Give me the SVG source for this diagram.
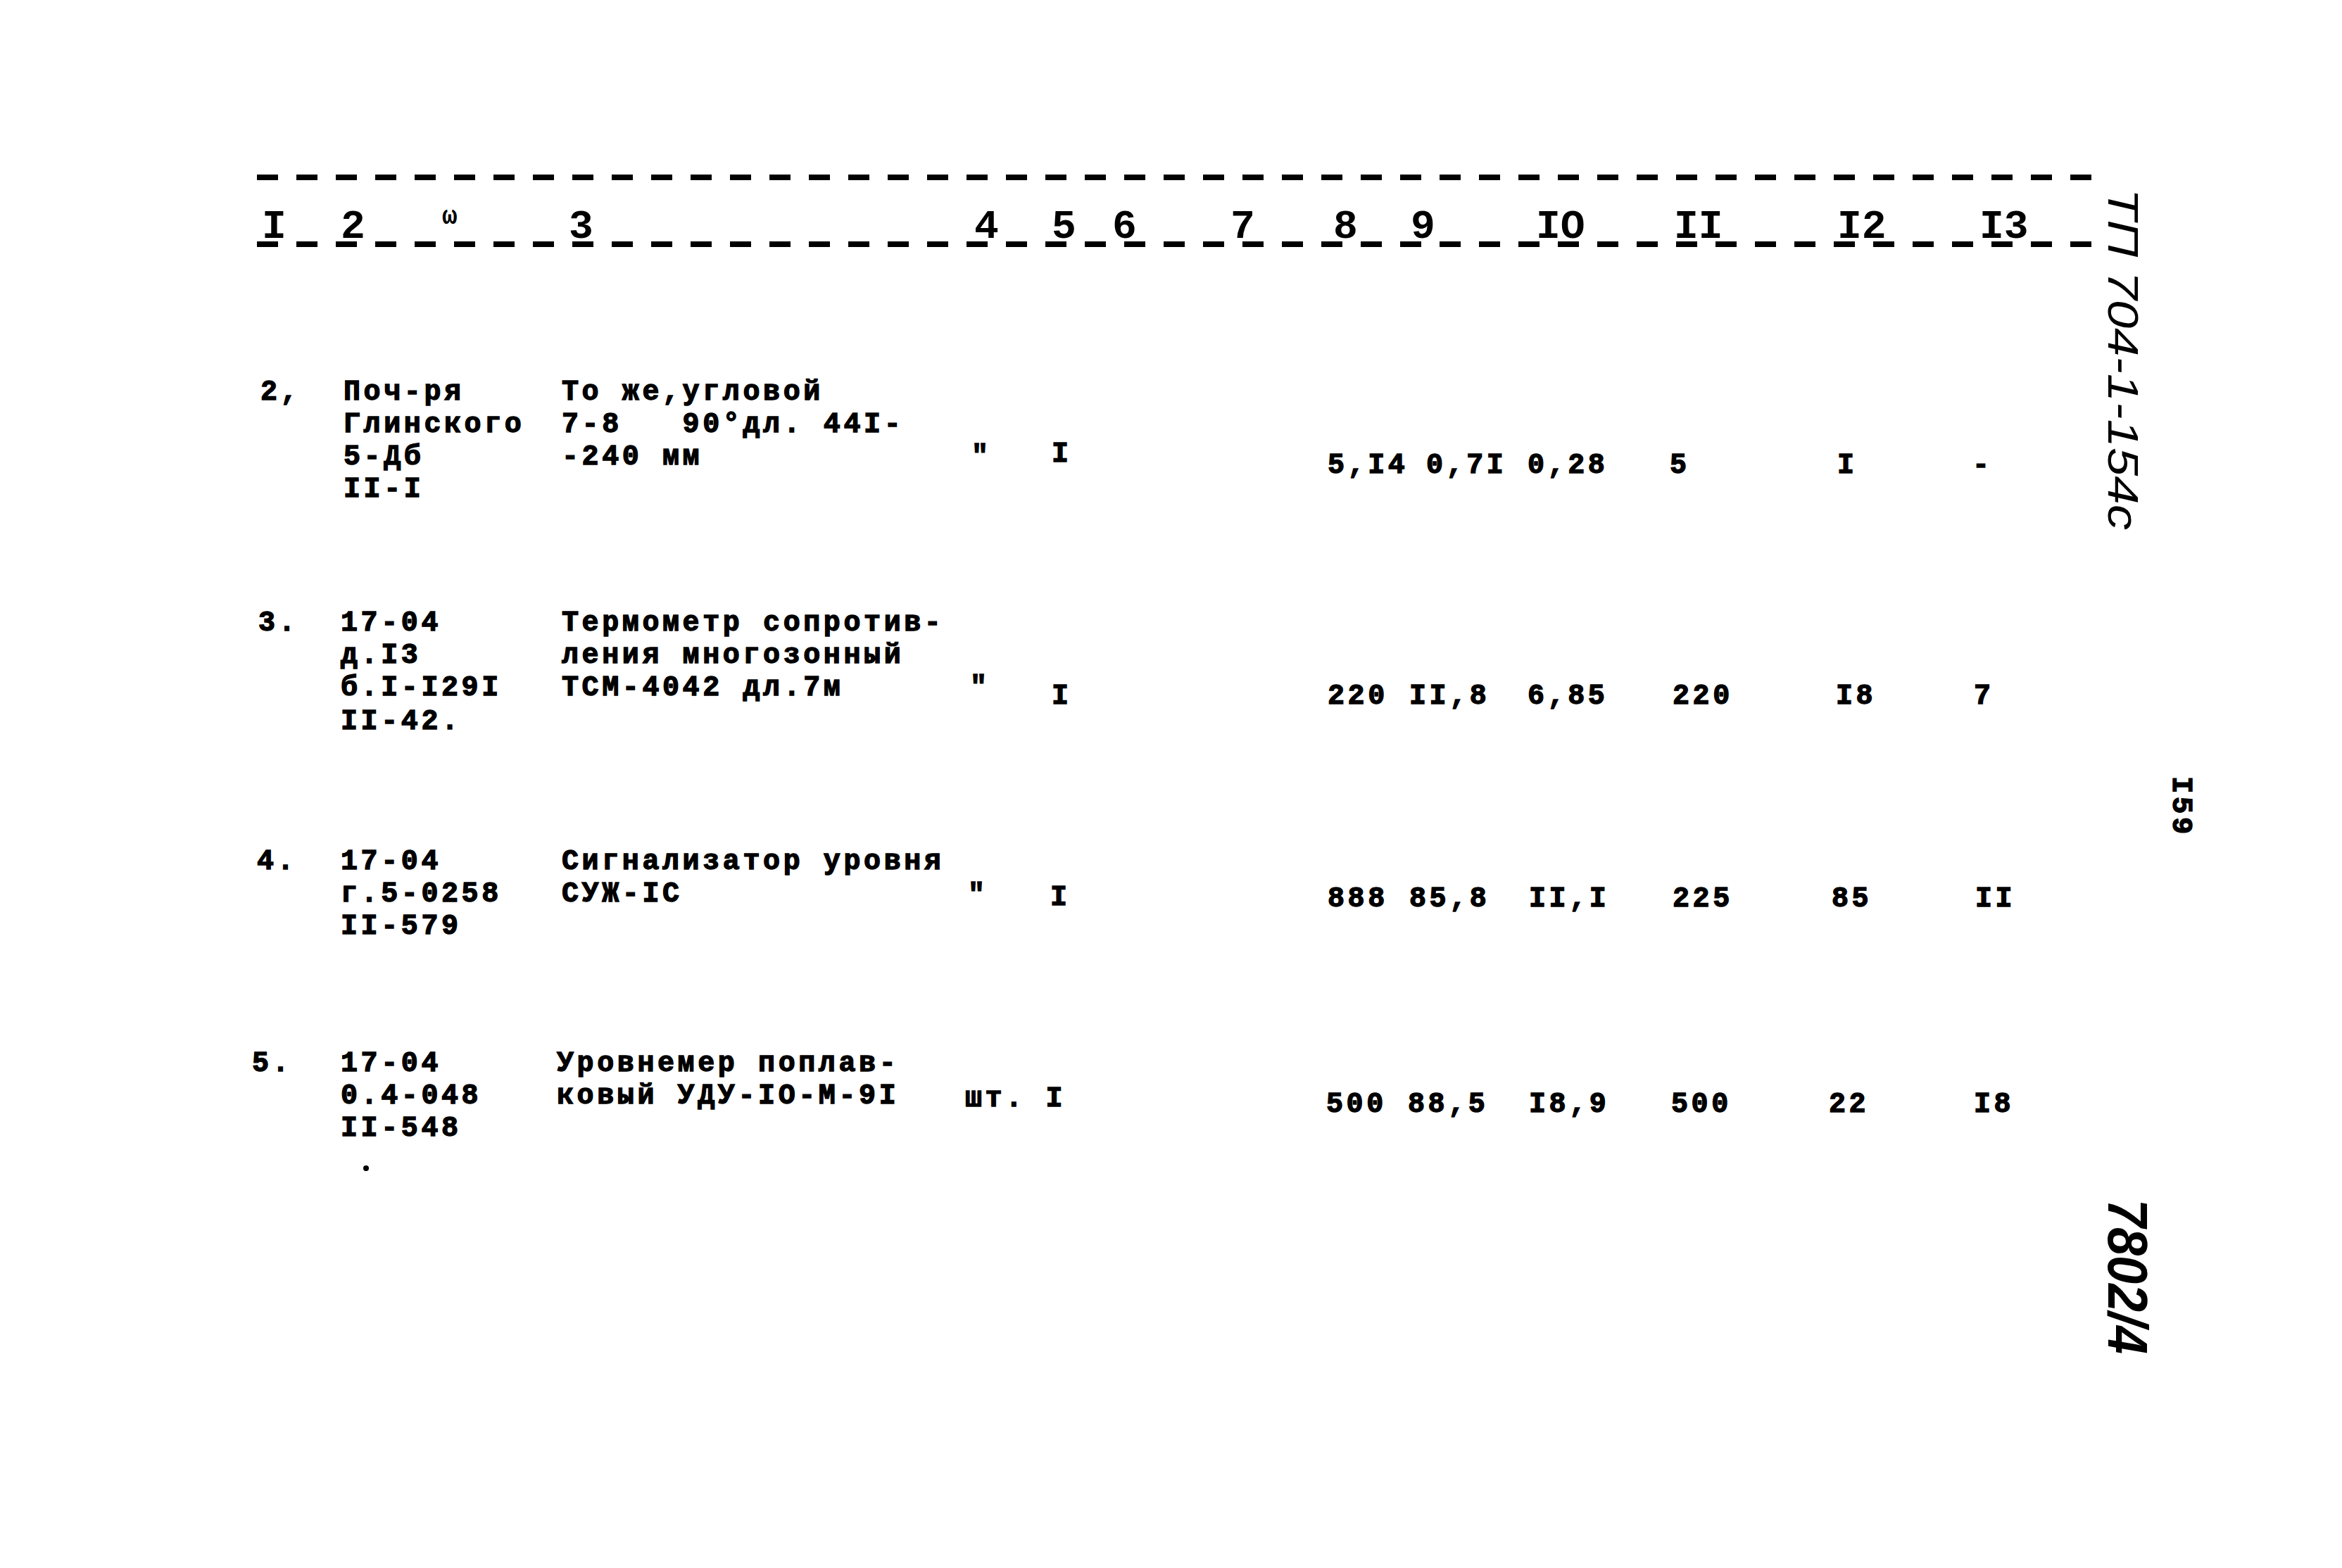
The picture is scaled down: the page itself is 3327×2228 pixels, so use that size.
<svg xmlns="http://www.w3.org/2000/svg" width="3327" height="2228" viewBox="0 0 3327 2228">
<style>
.t{font-family:"Liberation Mono","DejaVu Sans Mono",monospace;font-weight:bold;font-size:40px;letter-spacing:4.6px;fill:#000;stroke:#000;stroke-width:1.4px}
.h{font-family:"Liberation Mono","DejaVu Sans Mono",monospace;font-weight:bold;font-size:58px;fill:#000}
.s{font-family:"Liberation Mono","DejaVu Sans Mono",monospace;font-weight:bold;font-size:36px;fill:#000}
.hw{font-family:"Liberation Sans","DejaVu Sans",sans-serif;font-style:italic;fill:#000}
.rule{stroke:#000;stroke-width:8;stroke-dasharray:30 26;fill:none}
</style>
<rect width="3327" height="2228" fill="#fff"/>
<g id="rules">
<line class="rule" x1="365" y1="252" x2="2986" y2="252"/>
<line class="rule" x1="365" y1="347" x2="2975" y2="347"/>
</g>
<g id="header">
<text class="h" x="372" y="338">I</text>
<text class="h" x="484" y="338">2</text>
<text class="s" x="628" y="318">ω</text>
<text class="h" x="808" y="338">3</text>
<text class="h" x="1384" y="338">4</text>
<text class="h" x="1494" y="338">5</text>
<text class="h" x="1580" y="338">6</text>
<text class="h" x="1748" y="338">7</text>
<text class="h" x="1894" y="338">8</text>
<text class="h" x="2004" y="338">9</text>
<text class="h" x="2182" y="338">IO</text>
<text class="h" x="2378" y="338">II</text>
<text class="h" x="2610" y="338">I2</text>
<text class="h" x="2812" y="338">I3</text>
</g>
<g id="row-2">
<text class="t" x="370" y="568">2,</text>
<text class="t"><tspan x="488" y="568">Поч-ря</tspan><tspan x="488" y="614">Глинского</tspan><tspan x="488" y="660">5-Дб</tspan><tspan x="488" y="706">II-I</tspan></text>
<text class="t"><tspan x="798" y="568">То же,угловой</tspan><tspan x="798" y="614">7-8&#160;&#160;&#160;90°дл. 44I-</tspan><tspan x="798" y="660">-240 мм</tspan></text>
<text class="t" x="1380" y="660">"</text>
<text class="t" x="1494" y="656">I</text>
<text class="t" x="1886" y="672">5,I4</text>
<text class="t" x="2026" y="672">0,7I</text>
<text class="t" x="2170" y="672">0,28</text>
<text class="t" x="2372" y="672">5</text>
<text class="t" x="2610" y="672">I</text>
<text class="t" x="2802" y="672">-</text>
</g>
<g id="row-3">
<text class="t" x="367" y="896">3.</text>
<text class="t"><tspan x="484" y="896">17-04</tspan><tspan x="484" y="942">д.I3</tspan><tspan x="484" y="988">б.I-I29I</tspan><tspan x="484" y="1036">II-42.</tspan></text>
<text class="t"><tspan x="798" y="896">Термометр сопротив-</tspan><tspan x="798" y="942">ления многозонный</tspan><tspan x="798" y="988">ТСМ-4042 дл.7м</tspan></text>
<text class="t" x="1378" y="988">"</text>
<text class="t" x="1494" y="1000">I</text>
<text class="t" x="1886" y="1000">220</text>
<text class="t" x="2002" y="1000">II,8</text>
<text class="t" x="2170" y="1000">6,85</text>
<text class="t" x="2376" y="1000">220</text>
<text class="t" x="2608" y="1000">I8</text>
<text class="t" x="2804" y="1000">7</text>
</g>
<g id="row-4">
<text class="t" x="365" y="1235">4.</text>
<text class="t"><tspan x="484" y="1235">17-04</tspan><tspan x="484" y="1281">г.5-0258</tspan><tspan x="484" y="1327">II-579</tspan></text>
<text class="t"><tspan x="798" y="1235">Сигнализатор уровня</tspan><tspan x="798" y="1281">СУЖ-IС</tspan></text>
<text class="t" x="1375" y="1283">"</text>
<text class="t" x="1492" y="1286">I</text>
<text class="t" x="1886" y="1288">888</text>
<text class="t" x="2002" y="1288">85,8</text>
<text class="t" x="2172" y="1288">II,I</text>
<text class="t" x="2376" y="1288">225</text>
<text class="t" x="2602" y="1288">85</text>
<text class="t" x="2806" y="1288">II</text>
</g>
<g id="row-5">
<text class="t" x="358" y="1522">5.</text>
<text class="t"><tspan x="484" y="1522">17-04</tspan><tspan x="484" y="1568">0.4-048</tspan><tspan x="484" y="1614">II-548</tspan></text>
<text class="t"><tspan x="791" y="1522">Уровнемер поплав-</tspan><tspan x="791" y="1568">ковый УДУ-IO-М-9I</tspan></text>
<text class="t" x="1371" y="1572">шт. I</text>
<text class="t" x="1884" y="1580">500</text>
<text class="t" x="2000" y="1580">88,5</text>
<text class="t" x="2172" y="1580">I8,9</text>
<text class="t" x="2374" y="1580">500</text>
<text class="t" x="2598" y="1580">22</text>
<text class="t" x="2804" y="1580">I8</text>
<circle cx="520" cy="1660" r="4" fill="#000"/>
</g>
<g id="margin">
<text class="hw" font-size="62" transform="translate(2995,268) rotate(90)" textLength="485" lengthAdjust="spacingAndGlyphs">ТП 704-1-154с</text>
<text class="t" font-size="54" letter-spacing="0" transform="translate(3087,1103) rotate(90)" textLength="87" lengthAdjust="spacingAndGlyphs">I59</text>
<text class="hw" font-size="80" font-weight="bold" transform="translate(2995,1704) rotate(90)" textLength="220" lengthAdjust="spacingAndGlyphs">7802/4</text>
</g>
</svg>
